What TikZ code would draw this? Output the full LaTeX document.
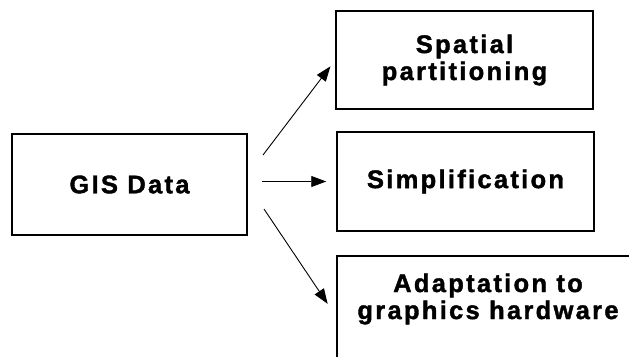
\documentclass[tikz,border=0pt]{standalone}
\usepackage{fontspec}
\setmainfont{Liberation Sans Bold}[LetterSpace=9,FakeBold=1.5]
\usetikzlibrary{arrows.meta}

\begin{document}
\begin{tikzpicture}[x=1pt,y=-1pt,
    box/.style={draw,line width=1.5pt,align=center,inner sep=0pt},
    txt/.style={align=center,font=\fontsize{25.5}{27}\selectfont},
    arr/.style={-{Triangle[length=15pt,width=11pt]},line width=0.9pt}]
        \useasboundingbox (0,0) rectangle (629,356);
        \clip (0,0) rectangle (629,356);
        \node[box,txt,minimum width=235pt,minimum height=101pt] (gis) at (129.5,184.5) {GIS Data};
        \node[box,txt,minimum width=257pt,minimum height=98pt] (spatial) at (464.5,60) {Spatial\\partitioning};
        \node[box,txt,minimum width=257pt,minimum height=99pt] (simpl) at (465.5,181.5) {Simplification};
        \node[box,minimum width=300pt,minimum height=121pt,anchor=north west] (adapt) at (336,255) {};
        \node[txt] (adapttxt) at (488,299) {Adaptation to\\graphics hardware};
        \coordinate (s1) at (263,155);
        \coordinate (s2) at (262,181.5);
        \coordinate (s3) at (264,209);
        \draw[arr,shorten >=8pt] (s1) -- (spatial.west);
        \draw[arr,shorten >=10pt] (s2) -- (simpl.west);
        \draw[arr,shorten >=15pt] (s3) -- (adapt.west);
      \end{tikzpicture}
\end{document}
